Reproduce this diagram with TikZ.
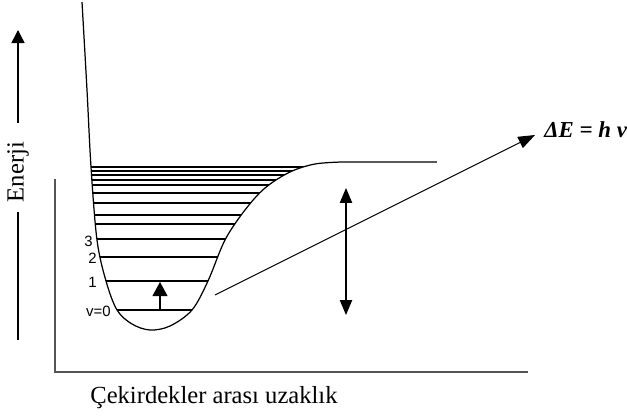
\documentclass[tikz,border=0pt]{standalone}
\usepackage{fontspec}
\setmainfont{Liberation Serif}
\newfontfamily\levelfont{Liberation Sans}
\usepackage{tikz}
\usetikzlibrary{arrows.meta}
\definecolor{axisgray}{RGB}{85,85,85}
% potential well, in pixel units
\newcommand{\wellcurve}{plot[smooth, tension=0.55] coordinates {(82,2) (87,90) (91,167) (97,240) (106,281) (117,310) (132,324) (150,330) (170,326) (192,310) (208,281) (225,240) (245,210) (265,188) (290,172) (315,164) (342,162)}}

\begin{document}
\begin{tikzpicture}[x=0.02cm, y=-0.02cm, >=Triangle,
    axis/.style={line width=1.1pt, axisgray},
    level/.style={line width=0.6pt},
    lvl/.style={font=\levelfont\fontsize{8.5}{10}\selectfont, inner sep=0pt, anchor=east}]
    \useasboundingbox (0,0) rectangle (627,416);

    % Axes
    \coordinate (yend) at (55,179);
    \coordinate (O) at (55,372);
    \coordinate (xend) at (528,372);
    \draw[axis] (yend) -- (O) -- (xend);

    % Energy label with arrow
    \node[rotate=90, font=\fontsize{14}{16}\selectfont] (enerji) at (18,172) {Enerji};
    \coordinate (ebot) at (18,340);
    \coordinate (elow) at (18,212);
    \coordinate (ehigh) at (18,123);
    \coordinate (etop) at (18,30);
    \draw[line width=0.8pt] (ebot) -- (elow);
    \draw[line width=0.8pt, -{Triangle[length=7.4pt, width=7.4pt]}] (ehigh) -- (etop);

    % Vibrational levels
    \begin{scope}
        \clip \wellcurve -- (437,162) -- cycle;
        \foreach \y in {310,281,257,239,224,215,203,193,185,180,175,171,167}
            \draw[level] (80,\y) -- (440,\y);
    \end{scope}

    % Curve
    \draw[line width=0.7pt] \wellcurve -- (437,162);

    % Level numbers
    \node[lvl] (n3) at (93,241) {3};
    \node[lvl] (n2) at (97,258) {2};
    \node[lvl] (n1) at (97,282) {1};
    \node[lvl] (n0) at (111,311) {v=0};

    % Transition v=0 -> 1
    \coordinate (t0) at (160,310);
    \coordinate (t1) at (160,282);
    \draw[line width=0.7pt, -{Triangle[length=8pt, width=8.5pt]}] (t0) -- (t1);

    % Dissociation double arrow
    \coordinate (dtop) at (346,188);
    \coordinate (dbot) at (346,315);
    \draw[line width=0.7pt, {Triangle[length=8.5pt, width=7pt]}-{Triangle[length=8.5pt, width=7pt]}] (dtop) -- (dbot);

    % Photon
    \node[anchor=base west, inner sep=0pt, font=\fontsize{13}{15}\selectfont\bfseries\itshape] (dE) at (544,137) {ΔE = h ν};
    \coordinate (pstart) at (215,295);
    \coordinate (ptip) at (535,135);
    \draw[line width=0.6pt, -{Triangle[length=9.5pt, width=7pt]}] (pstart) -- (ptip);

    % x label
    \node[anchor=base west, inner sep=0pt, font=\fontsize{14}{16}\selectfont] (xlab) at (90,403) {Çekirdekler arası uzaklık};
\end{tikzpicture}
\end{document}
